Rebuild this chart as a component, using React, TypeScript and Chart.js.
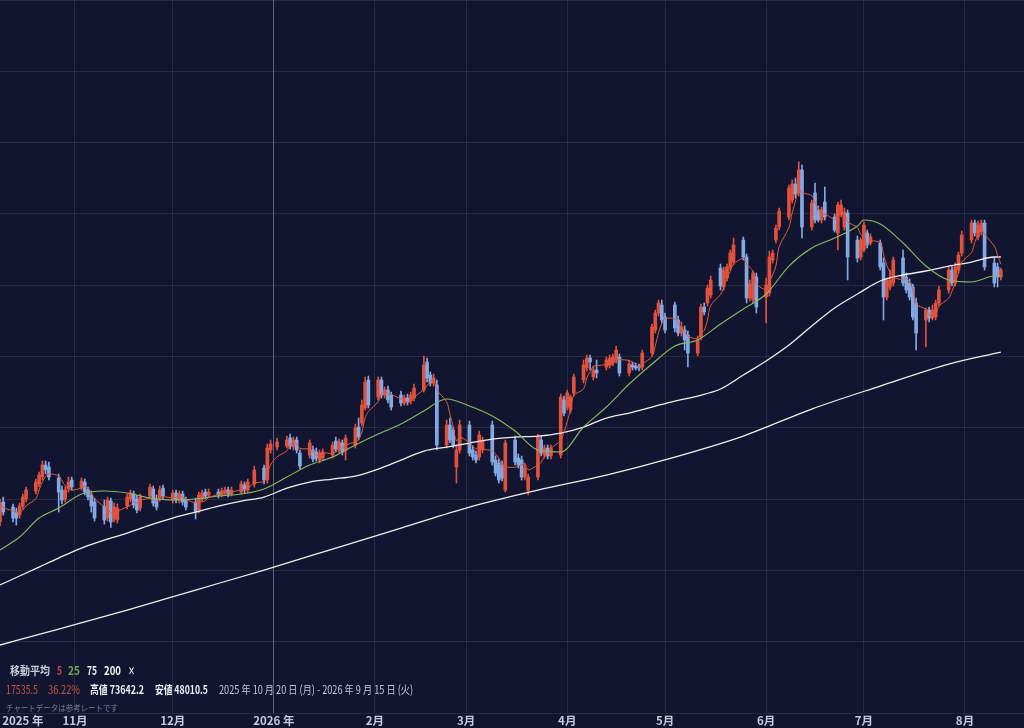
import React, { useEffect, useLayoutEffect, useRef } from "react";
import { Chart, registerables } from "chart.js";

Chart.register(...registerables);

// ---- categories: trading days (year-month, day list) ----
const TRADING_DAYS: Array<[string, number[]]> = [
  ["2025-10", [9, 10, 13, 14, 15, 16, 17, 20, 21, 22, 23, 24, 27, 28, 29, 30, 31]],
  ["2025-11", [3, 4, 5, 6, 7, 10, 11, 12, 13, 14, 17, 18, 19, 20, 21, 24, 25, 26, 27, 28]],
  ["2025-12", [1, 2, 3, 4, 5, 8, 9, 10, 11, 12, 15, 16, 17, 18, 19, 22, 23, 24, 26, 29, 30, 31]],
  ["2026-01", [2, 5, 6, 7, 8, 9, 12, 13, 14, 15, 16, 19, 20, 21, 22, 23, 26, 27, 28, 29, 30]],
  ["2026-02", [2, 3, 4, 5, 6, 9, 10, 11, 12, 13, 16, 17, 18, 19, 20, 23, 24, 25, 26, 27]],
  ["2026-03", [2, 3, 4, 5, 6, 9, 10, 11, 12, 13, 16, 17, 18, 19, 20, 23, 24, 25, 26, 27, 30, 31]],
  ["2026-04", [1, 2, 3, 6, 7, 8, 9, 10, 13, 14, 15, 16, 17, 20, 21, 22, 23, 24, 27, 28, 29, 30]],
  ["2026-05", [1, 4, 5, 6, 7, 8, 11, 12, 13, 14, 15, 18, 19, 20, 21, 22, 25, 26, 27, 28, 29]],
  ["2026-06", [1, 2, 3, 4, 5, 8, 9, 10, 11, 12, 15, 16, 17, 18, 19, 22, 23, 24, 25, 26, 29, 30]],
  ["2026-07", [1, 2, 3, 6, 7, 8, 9, 10, 13, 14, 15, 16, 17, 20, 21, 22, 23, 24, 27, 28, 29, 30, 31]],
  ["2026-08", [3, 4, 5, 6, 7, 10, 11, 12]],
];

// ---- OHLC series ----
const OPENS = [
  48392, 49795, 49444, 49094, 48883, 49514, 50005, 50566, 51057, 51548, 52389, 52250, 51478, 50636, 50005, 50706, 51338,
  50776, 51198, 50636, 50285, 49795, 49514, 48672, 49865, 48602, 48532, 49514, 50005, 50355, 50005, 49374, 50215, 50706, 50005, 50075, 50776,
  49935, 50426, 49935, 50355, 49935, 49795, 49234, 50005, 50496, 50285, 50496, 50285, 50426, 50636, 50355, 50496, 50987, 50636, 51057, 52179, 51338, 53442,
  53652, 53722, 54283, 53652, 54143, 53231, 53091, 53442, 53301, 52740, 52880, 53091, 54073, 53442, 53933, 53442, 53792, 55055, 55335, 56387, 58351,
  57158, 58351, 57299, 57649, 57299, 57299, 56738, 57088, 56878, 57088, 57649, 59613, 58702, 58140, 58000, 53792, 55195, 54844, 52250, 53442,
  55195, 53442, 53091, 52950, 53442, 55195, 52740, 52530, 52389, 50636, 54143, 52880, 52740, 51548, 50636, 51548, 54143, 53091, 53582, 53021, 53091, 56948,
  56457, 56247, 57439, 58351, 59192, 59893, 58561, 59052, 59262, 59403, 59543, 59753, 59963, 58842, 59403, 59333, 59262, 59262, 60244, 61857, 63049, 63610,
  62769, 63610, 62558, 61646, 61857, 61506, 60244, 61366, 63470, 63750, 64311, 66205, 64873, 65504, 66275, 66626, 68169, 66977, 64101, 63961, 65574,
  64171, 64452, 66766, 68169, 69080, 69782, 70974, 72096, 71465, 73078, 69080, 71465, 70273, 69571, 70834, 69782, 68660, 69922, 69080, 70062, 68169, 66977,
  67468, 68660, 67958, 67958, 66556, 64171, 64873, 65153, 66907, 65574, 65153, 64873, 63750, 62558, 63260, 62699, 62769, 63750, 64662, 66065, 65153, 66065, 67257,
  68169, 69361, 68379, 68730, 69361, 66556, 66275, 65574,
];
const HIGHS = [
  50005, 50145, 49655, 49374, 49725, 50355, 50846, 51408, 51899, 52670, 52670, 52600, 51758, 50917, 50846, 51548, 51548,
  51478, 51408, 50846, 50566, 50075, 49935, 50145, 50075, 49725, 49655, 50355, 50636, 50566, 50285, 50355, 51057, 50917, 50285, 50917, 50987,
  50636, 50636, 50566, 50566, 50145, 50075, 50496, 50636, 50706, 50706, 50706, 50776, 50846, 50846, 50846, 51268, 51198, 51408, 52319, 52389, 53862, 54143,
  54283, 54423, 54564, 54353, 54353, 53442, 54143, 53722, 53582, 53442, 53512, 54003, 54353, 54213, 54143, 54494, 55265, 55686, 56948, 58561, 58631,
  58561, 58561, 57860, 57930, 57509, 57579, 57299, 57369, 57509, 58070, 60034, 59893, 58912, 58772, 58351, 55545, 55686, 55055, 53792, 55545,
  55475, 53722, 53372, 54774, 54353, 55475, 53021, 52810, 52670, 54143, 54423, 53161, 53021, 52460, 51758, 54564, 54423, 53792, 53792, 53792, 57369, 57228,
  57649, 57299, 58772, 59753, 60104, 60104, 59333, 59753, 59963, 60104, 60174, 60736, 60174, 59753, 59613, 59543, 59473, 60455, 62278, 63260, 63961, 63961,
  63049, 63820, 62839, 62418, 62137, 61787, 61436, 63680, 63750, 65013, 65645, 66486, 66275, 66486, 67468, 68309, 68379, 67187, 65364, 65995, 65855,
  65504, 67397, 67468, 69221, 70413, 72026, 72377, 72517, 73642.2, 73429, 70974, 72166, 70553, 70483, 71886, 69992, 70834, 70974, 70413, 70273, 68449, 68309,
  69431, 68870, 68590, 68169, 66907, 65504, 66065, 66977, 67468, 65855, 65434, 65083, 64101, 63400, 63470, 63610, 63961, 64943, 66345, 66345, 66556, 67327, 68800,
  69571, 69571, 69501, 69571, 69571, 66907, 66556, 66205,
];
const LOWS = [
  48111, 48883, 48392, 48181, 48672, 49304, 49795, 50355, 50846, 51338, 51758, 51338, 49094, 49655, 49795, 50496, 50636,
  50636, 50285, 49935, 49094, 48462, 48251, 48462, 48010.5, 48392, 48322, 49304, 49795, 49374, 49023, 49164, 50005, 49514, 49234, 49865, 50005,
  49725, 49725, 49725, 49584, 49234, 48602, 49023, 49795, 50005, 50145, 50075, 50145, 50285, 50145, 50215, 50355, 50426, 50496, 50846, 51057, 51127, 53231,
  53442, 53582, 53512, 53442, 53231, 52109, 52880, 52600, 52670, 52530, 52740, 52880, 53301, 53231, 53091, 52740, 53582, 54143, 55124, 56247, 56387,
  56948, 57088, 57088, 56738, 56247, 56527, 56597, 56597, 56667, 56878, 57509, 58211, 57930, 57930, 53442, 53582, 53933, 53582, 51127, 53231,
  53021, 52740, 52530, 52740, 53231, 52389, 51618, 51127, 51268, 50496, 52389, 52179, 51338, 51338, 50285, 51338, 53021, 52880, 52810, 52810, 52880, 55826,
  56247, 56036, 57228, 58140, 58982, 59052, 58351, 58491, 59052, 59192, 59333, 59543, 58631, 58631, 59052, 59052, 58982, 59052, 60034, 61646, 62839, 62348,
  61646, 61716, 61436, 61436, 60455, 59262, 60034, 61156, 62909, 63540, 64101, 64662, 64662, 65294, 66065, 66416, 66766, 63750, 63891, 63750, 63049,
  62348, 64241, 66556, 67958, 68870, 69571, 70764, 71115, 71254, 68309, 68870, 69361, 69431, 69361, 69571, 68730, 67468, 69782, 68870, 65364, 66626, 66766,
  67327, 67608, 67818, 66065, 62558, 63961, 64662, 64943, 64943, 64452, 63961, 62558, 60455, 60665, 62418, 62558, 62558, 63540, 64452, 64943, 64943, 65855, 67047,
  67958, 68450, 68169, 68520, 66065, 64873, 64873, 65364,
];
const CLOSES = [
  49725, 49094, 48672, 48672, 49514, 50145, 50636, 51198, 51689, 52389, 52039, 51548, 50496, 49935, 50636, 51198, 50846,
  51268, 50496, 50145, 49514, 48672, 48532, 49935, 48392, 49444, 49374, 50145, 50426, 49584, 49234, 50145, 50846, 49725, 49444, 50636, 50215,
  50426, 49935, 50355, 49795, 49444, 49094, 50285, 50426, 50215, 50496, 50285, 50566, 50636, 50355, 50636, 51057, 50636, 51198, 52039, 51338, 53582, 53862,
  54003, 54143, 53722, 54143, 53442, 52319, 53933, 52810, 52880, 53231, 53301, 53792, 53512, 54003, 53301, 54283, 54984, 54353, 56597, 58211, 56597,
  58351, 57299, 57649, 56948, 56457, 56738, 57088, 56808, 57299, 57790, 59403, 58491, 58140, 58491, 53792, 55195, 54143, 53792, 53442, 55195,
  53231, 52950, 52740, 54494, 54143, 52600, 51829, 51338, 51478, 53933, 52600, 52389, 51548, 52179, 51548, 54353, 53231, 53582, 53021, 53582, 57158, 56036,
  57439, 57158, 58561, 59403, 59893, 59613, 59052, 58842, 59753, 59893, 59963, 60455, 58842, 59473, 59262, 59192, 59192, 60244, 62067, 63049, 63750, 62558,
  61857, 61997, 61646, 62067, 61156, 60244, 61156, 63470, 63120, 64802, 65364, 64943, 66065, 66275, 67257, 67818, 66977, 64101, 65083, 65855, 63470,
  65013, 66977, 67257, 69010, 70203, 71816, 72096, 71395, 73078, 69080, 70764, 69571, 69571, 70273, 69782, 68870, 70624, 70624, 70133, 66977, 66907, 68169,
  69221, 67818, 68379, 66275, 64171, 65364, 65364, 66766, 65153, 64662, 64171, 62769, 61646, 63260, 62699, 63260, 63750, 64662, 66065, 65153, 66275, 67117, 68520,
  69361, 68660, 69221, 69361, 66275, 65153, 65574, 66065,
];

const MA25_DATES = [
  "2025-10-09", "2025-10-15", "2025-10-21", "2025-10-27", "2025-11-03", "2025-11-10", "2025-11-17", "2025-11-24",
  "2025-12-01", "2025-12-08", "2025-12-15", "2025-12-22", "2025-12-29", "2026-01-05", "2026-01-12", "2026-01-19",
  "2026-01-26", "2026-02-02", "2026-02-09", "2026-02-16", "2026-02-23", "2026-03-02", "2026-03-09", "2026-03-16",
  "2026-03-23", "2026-03-30", "2026-04-06", "2026-04-13", "2026-04-20", "2026-04-27", "2026-05-04", "2026-05-11",
  "2026-05-18", "2026-05-25", "2026-06-01", "2026-06-08", "2026-06-15", "2026-06-22", "2026-06-29", "2026-07-01",
  "2026-07-06", "2026-07-13", "2026-07-20", "2026-07-27", "2026-08-03", "2026-08-10", "2026-08-12",
];
const MA25_VALUES = [
  46429, 47340, 48672, 49374, 50355, 50566, 50426, 50075,
  49935, 50005, 50215, 50355, 50706, 51548, 52389, 52950,
  53792, 54564, 55265, 56177, 57018, 56527, 55826, 54774,
  53442, 53301, 55055, 56457, 58070, 59473, 60736, 61156,
  62278, 63330, 64382, 66345, 67608, 68309, 69151, 69571,
  69291, 67958, 66345, 65364, 65224, 65645, 65645,
];
const MA75_DATES = [
  "2025-10-09", "2025-10-15", "2025-10-21", "2025-10-27", "2025-11-03", "2025-11-10", "2025-11-17", "2025-11-24",
  "2025-12-01", "2025-12-08", "2025-12-15", "2025-12-22", "2025-12-29", "2026-01-05", "2026-01-12", "2026-01-19",
  "2026-01-26", "2026-02-02", "2026-02-09", "2026-02-16", "2026-02-23", "2026-03-02", "2026-03-09", "2026-03-16",
  "2026-03-23", "2026-03-30", "2026-04-06", "2026-04-13", "2026-04-20", "2026-04-27", "2026-05-04", "2026-05-11",
  "2026-05-18", "2026-05-25", "2026-06-01", "2026-06-08", "2026-06-15", "2026-06-22", "2026-06-29", "2026-07-06",
  "2026-07-13", "2026-07-20", "2026-07-27", "2026-08-03", "2026-08-10", "2026-08-12",
];
const MA75_VALUES = [
  43974, 44605, 45236, 45867, 46569, 47130, 47621, 48181,
  48672, 49094, 49514, 49865, 50145, 50776, 51198, 51408,
  51618, 52109, 52740, 53372, 53652, 53933, 54213, 54353,
  54423, 54634, 55055, 55686, 56036, 56457, 56878, 57228,
  57719, 58702, 59683, 60805, 62137, 63400, 64382, 65294,
  65715, 65995, 66345, 66626, 66977, 66977,
];
const MA200_DATES = [
  "2025-10-09", "2025-10-27", "2025-11-17", "2025-12-08", "2025-12-29", "2026-01-19", "2026-02-09", "2026-03-02",
  "2026-03-23", "2026-04-13", "2026-05-04", "2026-05-25", "2026-06-15", "2026-07-06", "2026-07-27", "2026-08-12",
];
const MA200_VALUES = [
  39766, 40888, 42221, 43623, 45026, 46499, 47971, 49444,
  50636, 51688, 52950, 54423, 56317, 57930, 59473, 60314,
];

// ---- axis ----
const X_TICK_DATES = [
  "2025-10-16", "2025-11-01", "2025-12-01", "2026-01-01", "2026-02-01", "2026-03-01",
  "2026-04-01", "2026-05-01", "2026-06-01", "2026-07-01", "2026-08-01",
];
const X_TICK_LABELS = ["2025 年", "11月", "12月", "2026 年", "2月", "3月", "4月", "5月", "6月", "7月", "8月"];
const X_MIN_DATE = "2025-10-09";
const X_SPAN_DAYS = 314.1;
const Y_MIN = 35000;
const Y_MAX = 85000;
const Y_STEP = 5000;

const UP = "#e2513b";
const DOWN = "#84a8e4";
const BG = "#12152f";
const FONT = '"Noto Sans CJK JP", "Noto Sans", sans-serif';

const toDay = (s: string) => {
  const [y, m, d] = s.split("-").map(Number);
  return (Date.UTC(y, m - 1, d) - Date.UTC(2025, 9, 1)) / 86400000;
};

type FitProps = {
  left: number;
  top: number;
  width: number;
  size: number;
  color: string;
  bold?: boolean;
  children: React.ReactNode;
};

function FitText({ left, top, width, size, color, bold, children }: FitProps) {
  const r = useRef<HTMLDivElement | null>(null);
  useLayoutEffect(() => {
    const fit = () => {
      const el = r.current;
      if (!el) return;
      el.style.transform = "none";
      const w = el.getBoundingClientRect().width;
      if (w > 0) el.style.transform = `scaleX(${width / w})`;
    };
    fit();
    if ((document as any).fonts && (document as any).fonts.ready) {
      (document as any).fonts.ready.then(fit);
    }
  });
  return (
    <div
      ref={r}
      style={{
        position: "absolute",
        left,
        top,
        whiteSpace: "nowrap",
        fontFamily: FONT,
        fontSize: size,
        fontWeight: bold ? 700 : 400,
        color,
        lineHeight: "14px",
        transformOrigin: "0 50%",
      }}
    >
      {children}
    </div>
  );
}

export default function App() {
  const ref = useRef<HTMLCanvasElement | null>(null);

  useEffect(() => {
    const prevMargin = document.body.style.margin;
    document.body.style.margin = "0";
    const dates = TRADING_DAYS.flatMap(([ym, days]) =>
      days.map((d) => `${ym}-${String(d).padStart(2, "0")}`)
    );
    const xs = dates.map(toDay);
    const colors = CLOSES.map((c, i) => (c >= OPENS[i] ? UP : DOWN));
    const ma5 = CLOSES.map((_, i) => {
      const w = CLOSES.slice(Math.max(0, i - 4), i + 1);
      return w.reduce((a, b) => a + b, 0) / w.length;
    });
    const xMin = toDay(X_MIN_DATE);
    const tickValues = X_TICK_DATES.map(toDay);

    const chart = new Chart(ref.current as HTMLCanvasElement, {
      type: "bar",
      data: {
        datasets: [
          {
            type: "bar",
            data: xs.map((x, i) => ({ x, y: [LOWS[i], HIGHS[i]] })) as any,
            backgroundColor: colors,
            barThickness: 1,
            grouped: false,
            borderWidth: 0,
            order: 10,
          } as any,
          {
            type: "bar",
            data: xs.map((x, i) => ({ x, y: [OPENS[i], CLOSES[i]] })) as any,
            backgroundColor: colors,
            barThickness: 3,
            grouped: false,
            borderWidth: 0,
            order: 9,
          } as any,
          {
            type: "line",
            data: MA200_DATES.map((d, i) => ({ x: toDay(d), y: MA200_VALUES[i] })),
            borderColor: "#eeeef3",
            borderWidth: 1.3,
            pointRadius: 0,
            cubicInterpolationMode: "monotone",
            order: 4,
          } as any,
          {
            type: "line",
            data: MA75_DATES.map((d, i) => ({ x: toDay(d), y: MA75_VALUES[i] })),
            borderColor: "#eeeef3",
            borderWidth: 1.3,
            pointRadius: 0,
            cubicInterpolationMode: "monotone",
            order: 3,
          } as any,
          {
            type: "line",
            data: MA25_DATES.map((d, i) => ({ x: toDay(d), y: MA25_VALUES[i] })),
            borderColor: "#8cb862",
            borderWidth: 1.1,
            pointRadius: 0,
            cubicInterpolationMode: "monotone",
            order: 2,
          } as any,
          {
            type: "line",
            data: xs.map((x, i) => ({ x, y: ma5[i] })),
            borderColor: "#e05a40",
            borderWidth: 1,
            pointRadius: 0,
            tension: 0.3,
            order: 1,
          } as any,
        ],
      },
      options: {
        animation: false,
        responsive: false,
        events: [],
        layout: { padding: 0 },
        plugins: { legend: { display: false }, tooltip: { enabled: false } },
        scales: {
          x: {
            type: "linear",
            min: xMin,
            max: xMin + X_SPAN_DAYS,
            offset: false,
            afterBuildTicks: (scale: any) => {
              scale.ticks = tickValues.map((v) => ({ value: v }));
            },
            afterFit: (scale: any) => {
              scale.height = 15;
            },
            ticks: {
              autoSkip: false,
              maxRotation: 0,
              minRotation: 0,
              padding: 1,
              color: "#c6cadd",
              font: { family: FONT, size: 11.5, weight: "bold" },
              callback: (_v: any, i: number) => X_TICK_LABELS[i],
            },
            grid: {
              offset: false,
              drawTicks: false,
              lineWidth: 1,
              color: (ctx: any) =>
                ctx.index === 0
                  ? "rgba(0,0,0,0)"
                  : ctx.index === 3
                  ? "rgba(205,205,225,0.42)"
                  : "rgba(255,255,255,0.085)",
            },
            border: { display: false },
          },
          y: {
            type: "linear",
            min: Y_MIN,
            max: Y_MAX,
            beginAtZero: false,
            afterFit: (scale: any) => {
              scale.width = 0;
            },
            ticks: { display: false, stepSize: Y_STEP },
            grid: {
              drawTicks: false,
              color: (ctx: any) =>
                ctx.tick && ctx.tick.value % Y_STEP === 0 ? "rgba(255,255,255,0.085)" : "rgba(0,0,0,0)",
            },
            border: { display: false },
          },
        },
      } as any,
    });
    return () => {
      chart.destroy();
      document.body.style.margin = prevMargin;
    };
  }, []);

  return (
    <div
      style={{
        position: "fixed",
        left: 0,
        top: 0,
        width: 1024,
        height: 728,
        background: BG,
        overflow: "hidden",
      }}
    >
      <canvas ref={ref} width={1024} height={728} style={{ display: "block", width: 1024, height: 728 }} />

      <FitText left={10} top={663} width={40} size={11} bold color="#c9cbd8">移動平均</FitText>
      <FitText left={57} top={663} width={5} size={12} bold color="#c24d42">5</FitText>
      <FitText left={68} top={663} width={12} size={12} bold color="#74a553">25</FitText>
      <FitText left={87} top={663} width={10} size={12} bold color="#f2f2f6">75</FitText>
      <FitText left={104} top={663} width={17} size={12} bold color="#f2f2f6">200</FitText>
      <FitText left={128} top={663} width={7} size={11} bold color="#f2f2f6">×</FitText>

      <FitText left={6} top={682} width={32} size={11.5} color="#c8544b">17535.5</FitText>
      <FitText left={48} top={682} width={32} size={11.5} color="#c8544b">36.22%</FitText>
      <FitText left={90} top={682} width={54} size={11.5} bold color="#eceef5">高値 73642.2</FitText>
      <FitText left={155} top={682} width={53} size={11.5} bold color="#eceef5">安値 48010.5</FitText>
      <FitText left={219} top={682} width={194} size={11.5} color="#c4c7d8">
        2025 年 10 月 20 日 (月) - 2026 年 9 月 15 日 (火)
      </FitText>
      <FitText left={6} top={700} width={112} size={8.5} color="#7b7f98">
        チャートデータは参考レートです
      </FitText>
    </div>
  );
}
